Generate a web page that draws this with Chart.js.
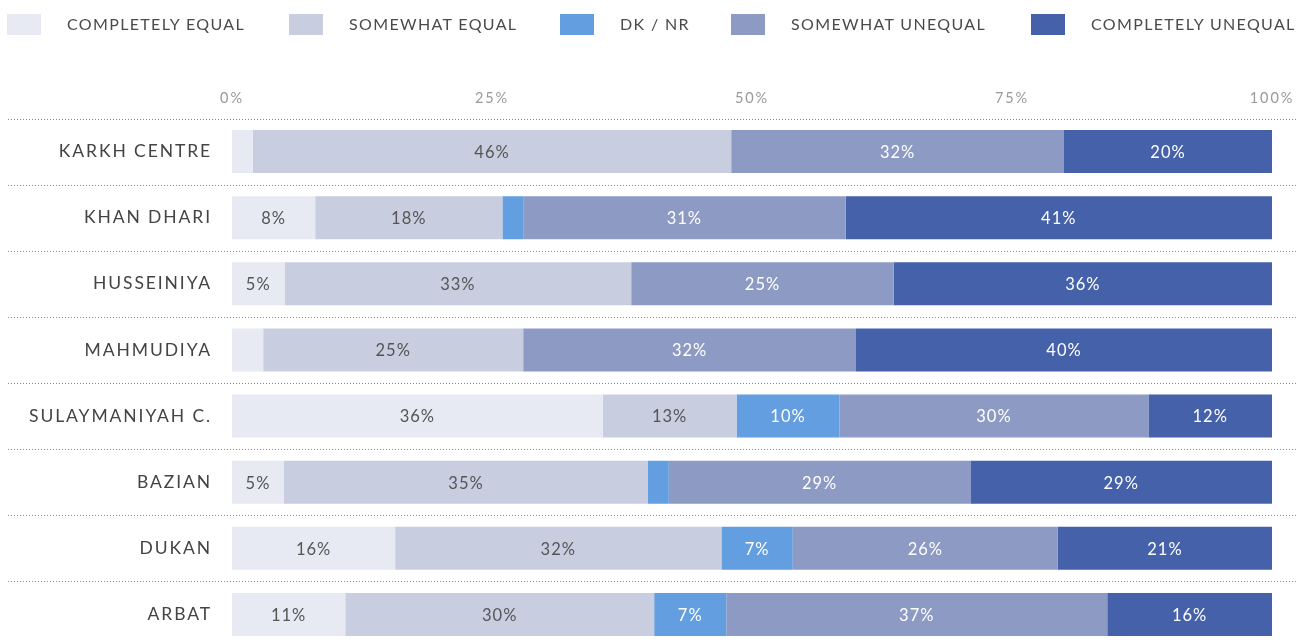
<!DOCTYPE html>
<html>
<head>
<meta charset="utf-8">
<script src="https://cdn.jsdelivr.net/npm/chart.js@4.4.0/dist/chart.umd.min.js"></script>
<style>
  html, body { margin: 0; padding: 0; background: #fff; overflow: hidden; }
  .wrap { position: relative; width: 1310px; height: 678px; }
  .legend { position: absolute; top: 0; left: 0; width: 1310px; height: 50px; font-family: Lato, sans-serif; }
  .legend .item { position: absolute; top: 14px; height: 21px; }
  .legend .box { position: absolute; left: 0; top: 0; width: 34px; height: 21px; }
  .legend .txt { position: absolute; top: 0; white-space: nowrap; font-size: 16px; letter-spacing: 1.35px; color: #4a4a4a; line-height: 20px; }
  canvas { display: block; }
</style>
</head>
<body>
<div class="wrap">
  <div class="legend" id="legend"></div>
  <canvas id="chart" width="1310" height="678"></canvas>
</div>
<script>
const categories = ['KARKH CENTRE', 'KHAN DHARI', 'HUSSEINIYA', 'MAHMUDIYA', 'SULAYMANIYAH C.', 'BAZIAN', 'DUKAN', 'ARBAT'];
const seriesNames = ['COMPLETELY EQUAL', 'SOMEWHAT EQUAL', 'DK / NR', 'SOMEWHAT UNEQUAL', 'COMPLETELY UNEQUAL'];
const completelyEqual = [2, 8, 5, 3, 36, 5, 16, 11];
const somewhatEqual = [46, 18, 33, 25, 13, 35, 32, 30];
const dkNr = [0, 2, 0, 0, 10, 2, 7, 7];
const somewhatUnequal = [32, 31, 25, 32, 30, 29, 26, 37];
const completelyUnequal = [20, 41, 36, 40, 12, 29, 21, 16];
const tickLabels = ['0%', '25%', '50%', '75%', '100%'];

const colors = ['#e7eaf2', '#c8cde0', '#629ee0', '#8d9ac4', '#4461aa'];
const labelColors = ['#555', '#555', '#fff', '#fff', '#fff'];
const legendX = [7, 289, 560, 731, 1031];

const raw = [completelyEqual, somewhatEqual, dkNr, somewhatUnequal, completelyUnequal];
// each row is drawn as a share of its own total, labels keep the printed value
const totals = categories.map((c, i) => raw.reduce((s, arr) => s + arr[i], 0));

const legend = document.getElementById('legend');
seriesNames.forEach((name, i) => {
  const it = document.createElement('div');
  it.className = 'item';
  it.style.left = legendX[i] + 'px';
  it.innerHTML = '<div class="box" style="background:' + colors[i] + '"></div><div class="txt" style="left:60px">' + name + '</div>';
  legend.appendChild(it);
});

const datasets = raw.map((arr, i) => ({
  label: seriesNames[i],
  data: arr.map((v, j) => v / totals[j] * 100),
  printed: arr,
  backgroundColor: colors[i],
  borderWidth: 0,
  barPercentage: 0.65,
  categoryPercentage: 1
}));

const rowLines = {
  id: 'rowLines',
  beforeDatasetsDraw(chart) {
    const ctx = chart.ctx;
    const y = chart.scales.y;
    const half = (y.getPixelForValue(1) - y.getPixelForValue(0)) / 2;
    ctx.save();
    ctx.strokeStyle = '#8a8a8a';
    ctx.lineWidth = 1;
    ctx.setLineDash([1, 2]);
    categories.forEach((c, i) => {
      const py = Math.round(y.getPixelForValue(i) - half) + 0.5;
      ctx.beginPath();
      ctx.moveTo(8, py);
      ctx.lineTo(1296, py);
      ctx.stroke();
    });
    ctx.restore();
  }
};

const barLabels = {
  id: 'barLabels',
  afterDatasetsDraw(chart) {
    const ctx = chart.ctx;
    ctx.save();
    ctx.font = '16.5px Lato, sans-serif';
    ctx.letterSpacing = '1px';
    ctx.textAlign = 'center';
    ctx.textBaseline = 'middle';
    chart.data.datasets.forEach((ds, i) => {
      const meta = chart.getDatasetMeta(i);
      meta.data.forEach((bar, j) => {
        const v = ds.printed[j];
        if (v < 5) return;
        ctx.fillStyle = labelColors[i];
        ctx.fillText(v + '%', (bar.x + bar.base) / 2, bar.y + 1);
      });
    });
    ctx.restore();
  }
};

const spacing = {
  id: 'spacing',
  beforeDraw(chart) { chart.ctx.letterSpacing = '1.9px'; },
  afterDraw(chart) { chart.ctx.letterSpacing = '0px'; }
};

new Chart(document.getElementById('chart'), {
  type: 'bar',
  data: { labels: categories, datasets: datasets },
  options: {
    indexAxis: 'y',
    responsive: false,
    animation: false,
    layout: { padding: { top: 70, right: 38, left: 0, bottom: 13.5 } },
    plugins: { legend: { display: false }, tooltip: { enabled: false } },
    scales: {
      x: {
        stacked: true,
        position: 'top',
        min: 0,
        max: 100,
        grid: { display: false, drawTicks: false },
        border: { display: false },
        ticks: {
          stepSize: 25,
          padding: 11,
          color: '#999',
          font: { family: 'Lato, sans-serif', size: 14.5 },
          callback: (v, i) => tickLabels[i]
        },
        afterFit(s) { s.height = 48.5; }
      },
      y: {
        stacked: true,
        grid: { display: false, drawTicks: false },
        border: { display: false },
        ticks: {
          padding: 20,
          color: '#444',
          font: { family: 'Lato, sans-serif', size: 17.5 }
        },
        afterFit(s) { s.width = 232; }
      }
    }
  },
  plugins: [rowLines, barLabels, spacing]
});
</script>
</body>
</html>
